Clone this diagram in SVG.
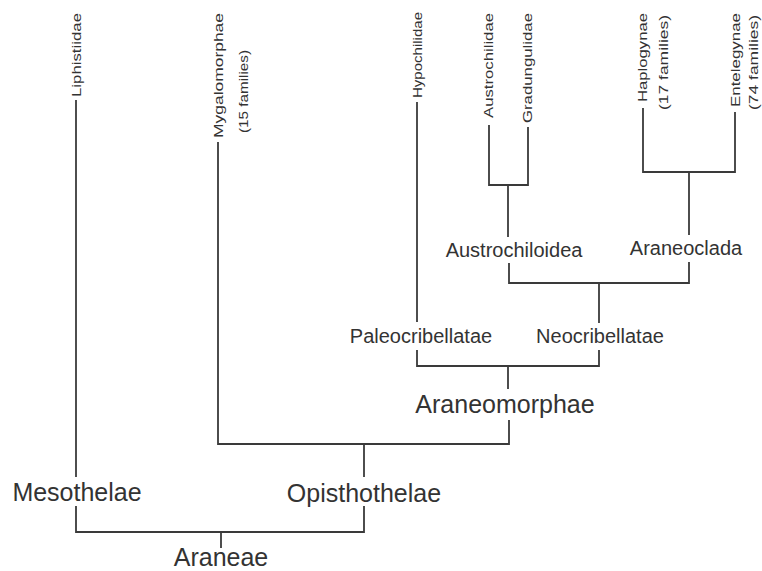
<svg xmlns="http://www.w3.org/2000/svg" width="762" height="571" viewBox="0 0 762 571">
<style>
.bg{fill:#ffffff}
.ln{fill:none;stroke:#3a3a3a;stroke-width:1.8;stroke-linecap:butt;stroke-linejoin:miter}
text{font-family:"Liberation Sans",Arial,sans-serif;fill:#333333}
.big{font-size:25px;text-anchor:middle}
.mid{font-size:20px;text-anchor:middle}
.rot{font-size:12.5px;text-anchor:end}
</style>
<rect class="bg" x="0" y="0" width="762" height="571"/>
<g id="connectors">
<path class="ln" d="M76,100V477"/>
<path class="ln" d="M76,506V532H364V506"/>
<path class="ln" d="M221,532V548"/>
<path class="ln" d="M364,477V444"/>
<path class="ln" d="M218,142V444H509V420"/>
<path class="ln" d="M508,389V366"/>
<path class="ln" d="M417,350V366H599V350"/>
<path class="ln" d="M417,102V322"/>
<path class="ln" d="M599,323V283"/>
<path class="ln" d="M509,263V283H689V262"/>
<path class="ln" d="M508,237V185"/>
<path class="ln" d="M489,125V185H528V127"/>
<path class="ln" d="M689,235V172"/>
<path class="ln" d="M643,108V172H735V112"/>
</g>
<g id="liphistiidae"><text class="rot" transform="translate(81,13) rotate(-90)" textLength="84" lengthAdjust="spacingAndGlyphs">Liphistiidae</text></g>
<g id="mygalomorphae"><text class="rot" transform="translate(223,13) rotate(-90)" textLength="125" lengthAdjust="spacingAndGlyphs">Mygalomorphae</text><text class="rot" transform="translate(248,50) rotate(-90)" textLength="83" lengthAdjust="spacingAndGlyphs">(15 families)</text></g>
<g id="hypochilidae"><text class="rot" transform="translate(422,12) rotate(-90)" textLength="86" lengthAdjust="spacingAndGlyphs">Hypochilidae</text></g>
<g id="austrochilidae"><text class="rot" transform="translate(493,13) rotate(-90)" textLength="105" lengthAdjust="spacingAndGlyphs">Austrochilidae</text></g>
<g id="gradungulidae"><text class="rot" transform="translate(532,13) rotate(-90)" textLength="110" lengthAdjust="spacingAndGlyphs">Gradungulidae</text></g>
<g id="haplogynae"><text class="rot" transform="translate(647,13) rotate(-90)" textLength="89" lengthAdjust="spacingAndGlyphs">Haplogynae</text><text class="rot" transform="translate(668,15) rotate(-90)" textLength="95" lengthAdjust="spacingAndGlyphs">(17 families)</text></g>
<g id="entelegynae"><text class="rot" transform="translate(740,13) rotate(-90)" textLength="94" lengthAdjust="spacingAndGlyphs">Entelegynae</text><text class="rot" transform="translate(758,15) rotate(-90)" textLength="95" lengthAdjust="spacingAndGlyphs">(74 families)</text></g>
<g id="austrochiloidea"><text class="mid" x="514" y="257">Austrochiloidea</text></g>
<g id="araneoclada"><text class="mid" x="686" y="255">Araneoclada</text></g>
<g id="paleocribellatae"><text class="mid" x="421" y="343">Paleocribellatae</text></g>
<g id="neocribellatae"><text class="mid" x="600" y="343">Neocribellatae</text></g>
<g id="araneomorphae"><text class="big" x="505" y="413">Araneomorphae</text></g>
<g id="mesothelae"><text class="big" x="77" y="501">Mesothelae</text></g>
<g id="opisthothelae"><text class="big" x="364" y="502">Opisthothelae</text></g>
<g id="araneae"><text class="big" x="221" y="566">Araneae</text></g>
</svg>
